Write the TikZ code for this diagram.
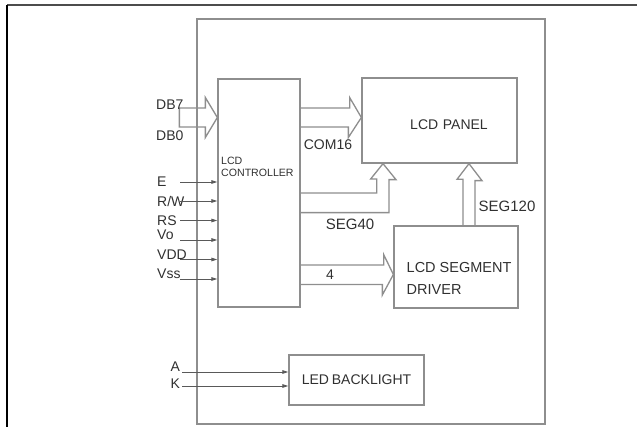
\documentclass[tikz,border=0pt]{standalone}
\usepackage{fontspec}
\setmainfont{Liberation Sans}
\usetikzlibrary{positioning, arrows.meta, calc}

\definecolor{linegray}{HTML}{8E8E8E}
\definecolor{inkgray}{HTML}{303030}

\begin{document}
\begin{tikzpicture}[
  x=1pt, y=-1pt,
  font=\fontsize{14}{16}\selectfont,
  blk/.style={rectangle, draw=linegray, line width=1.3pt, inner sep=0pt, text=inkgray},
  bus/.style={draw=linegray, line width=1.3pt, line join=miter},
  sig/.style={-{Triangle[length=6pt, width=3.6pt]}, draw=inkgray!80, line width=0.8pt},
  lbl/.style={text=inkgray, inner sep=0pt}
]
  \useasboundingbox (0,0) rectangle (637,427);
  % page frame
  \draw[line width=2pt, black!70] (7,5) -- (637,5);
  \draw[line width=2pt, black] (7,5) -- (7,427);

  % blocks
  \node[blk, minimum width=348pt, minimum height=405pt] (module) at (371,221.5) {};
  \node[blk, minimum width=82pt, minimum height=228pt] (ctrl) at (259,193) {};
  \node[blk, minimum width=155pt, minimum height=85pt,
        label={[lbl, xshift=9.5pt, yshift=-4.5pt]center:LCD\,\,PANEL}] (panel) at (439.5,120.5) {};
  \node[blk, minimum width=124pt, minimum height=82pt] (driver) at (456,267) {};
  \node[blk, minimum width=135pt, minimum height=50pt] (led) at (356.5,380) {LED\kern-1pt\ BACKLIGHT};
  \node[lbl, anchor=west, align=left, font=\fontsize{10.6}{12}\selectfont] (ctrltext) at (221,167) {LCD\\CONTROLLER};
  \node[lbl, anchor=west, align=left, font=\fontsize{14.5}{22}\selectfont] (drvtext) at (406.5,278) {LCD SEGMENT\\DRIVER};

  % data bus in
  \draw[bus] ([yshift=75.5pt]ctrl.west) -- ++(-12,-20) -- ++(0,10.5) -- ++(-26,0)
    -- ++(0,19) -- ++(26,0) -- ++(0,10.5) -- cycle;
  \node[lbl, anchor=west] (db7) at (156,105) {DB7};
  \node[lbl, anchor=west] (db0) at (156,135.5) {DB0};

  % COM16
  \draw[bus] ([yshift=85pt]ctrl.east) -- ++(49,0) -- ++(0,-10.5) -- ([yshift=3pt]panel.west)
    -- ++(-13,20) -- ++(0,-10.5) -- ++(-49,0);
  \node[lbl] (com) at (328,144.5) {COM16};

  % SEG40
  \draw[bus] (ctrl.east) -- ++(76,0) -- ++(0,-14) -- ++(-6,0) -- ([xshift=-56.5pt]panel.south)
    -- ++(13,16) -- ++(-7,0) -- ++(0,33) -- ++(-89,0);
  \node[lbl, font=\fontsize{15}{17}\selectfont] (seg40) at (350,224) {SEG40};

  % SEG120
  \draw[bus] ([xshift=7pt]driver.north) -- ++(0,-46) -- ++(-6,0) -- ([xshift=29.5pt]panel.south)
    -- ++(13,17) -- ++(-7,0) -- ++(0,46);
  \node[lbl, font=\fontsize{15}{17}\selectfont] (seg120) at (507,206) {SEG120};

  % 4 lines to driver
  \draw[bus] ([yshift=-72pt]ctrl.east) -- ++(83,0) -- ++(0,-10.5) -- ([yshift=-7.5pt]driver.west)
    -- ++(-11,20.5) -- ++(0,-10.5) -- ++(-83,0);
  \node[lbl] (four) at (330,275) {4};

  % control signals
  \foreach \name/\txt/\ty/\ly in {e/E/182/182, rw/{R/W}/201/201, rs/RS/220.5/220.5,
                                  vo/Vo/240/235, vdd/VDD/259.5/255, vss/Vss/279/274} {
    \node[lbl, anchor=west] (\name) at (157,\ly) {\txt};
    \coordinate (\name-in) at (180,\ty);
    \draw[sig] (\name-in) -- (\name-in -| ctrl.west);
  }

  % backlight
  \node[lbl, anchor=west] (anode) at (170.5,367) {A};
  \node[lbl, anchor=west] (kath) at (170.5,384) {K};
  \coordinate (a-in) at (182,372);
  \coordinate (k-in) at (182,386);
  \draw[sig] (a-in) -- (a-in -| led.west);
  \draw[sig] (k-in) -- (k-in -| led.west);
\end{tikzpicture}
\end{document}
